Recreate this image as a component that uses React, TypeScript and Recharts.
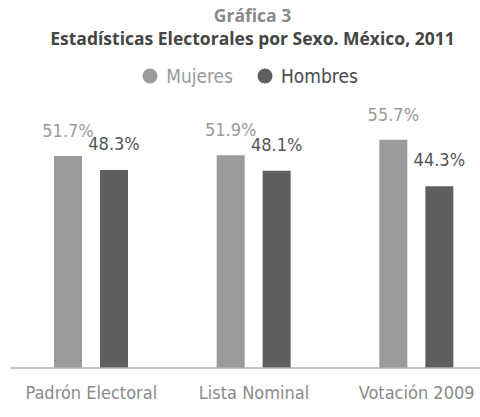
import { BarChart, Bar, XAxis, YAxis, LabelList } from "recharts";

const categories = ["Padrón Electoral", "Lista Nominal", "Votación 2009"];
const mujeres = [51.7, 51.9, 55.7];
const hombres = [48.3, 48.1, 44.3];

const data = categories.map((name, i) => ({
  name,
  Mujeres: mujeres[i],
  Hombres: hombres[i],
}));

const FONT = "'Liberation Sans Narrow', 'DejaVu Sans Condensed', sans-serif";
const LIGHT = "#9b9b9b";
const DARK = "#5f5f5f";

function LegendRow() {
  const item = (color: string, textColor: string, label: string) => (
    <span style={{ display: "inline-flex", alignItems: "center", marginRight: 24 }}>
      <svg width={16} height={16} style={{ marginRight: 8 }}>
        <circle cx={8} cy={8} r={7.5} fill={color} />
      </svg>
      <span style={{ color: textColor }}>{label}</span>
    </span>
  );
  return (
    <div
      style={{
        position: "absolute",
        top: 65,
        left: 0,
        width: 480,
        textAlign: "center",
        fontFamily: FONT,
        fontSize: 19,
        paddingLeft: 44,
        boxSizing: "border-box",
      }}
    >
      {item(LIGHT, "#9a9a9a", "Mujeres")}
      {item(DARK, "#4a4a4a", "Hombres")}
    </div>
  );
}

export default function App() {
  return (
    <div
      style={{
        position: "absolute",
        left: 0,
        top: 0,
        width: 480,
        height: 417,
        overflow: "hidden",
        background: "#fff",
      }}
    >
      <div
        style={{
          position: "absolute",
          top: 4,
          left: 0,
          width: 505,
          textAlign: "center",
          fontFamily: "'Open Sans', sans-serif",
          fontWeight: 700,
          fontSize: 17.5,
          lineHeight: "23px",
        }}
      >
        <div style={{ color: "#8a8a8a" }}>Gráfica 3</div>
        <div style={{ color: "#454545" }}>Estadísticas Electorales por Sexo. México, 2011</div>
      </div>
      <LegendRow />
      <div style={{ position: "absolute", left: 0, top: 0 }}>
        <BarChart
          width={500}
          height={417}
          data={data}
          margin={{ top: 122, right: 2, bottom: 0, left: 10 }}
          barGap={18}
          barSize={28}
        >
          <XAxis
            dataKey="name"
            height={49}
            tickLine={false}
            axisLine={{ stroke: "#b0b0b0", strokeWidth: 1.5 }}
            tick={{ fill: "#8a8a8a", fontFamily: FONT, fontSize: 18 }}
            tickMargin={12}
          />
          <YAxis hide domain={[0, 60]} />
          <Bar dataKey="Mujeres" fill={LIGHT} isAnimationActive={false}>
            <LabelList
              dataKey="Mujeres"
              position="top"
              offset={19}
              formatter={(v: number) => `${v}%`}
              style={{ fill: "#9a9a9a", fontFamily: FONT, fontSize: 18 }}
            />
          </Bar>
          <Bar dataKey="Hombres" fill={DARK} isAnimationActive={false}>
            <LabelList
              dataKey="Hombres"
              position="top"
              offset={20}
              formatter={(v: number) => `${v}%`}
              style={{ fill: "#555555", fontFamily: FONT, fontSize: 18 }}
            />
          </Bar>
        </BarChart>
      </div>
    </div>
  );
}
